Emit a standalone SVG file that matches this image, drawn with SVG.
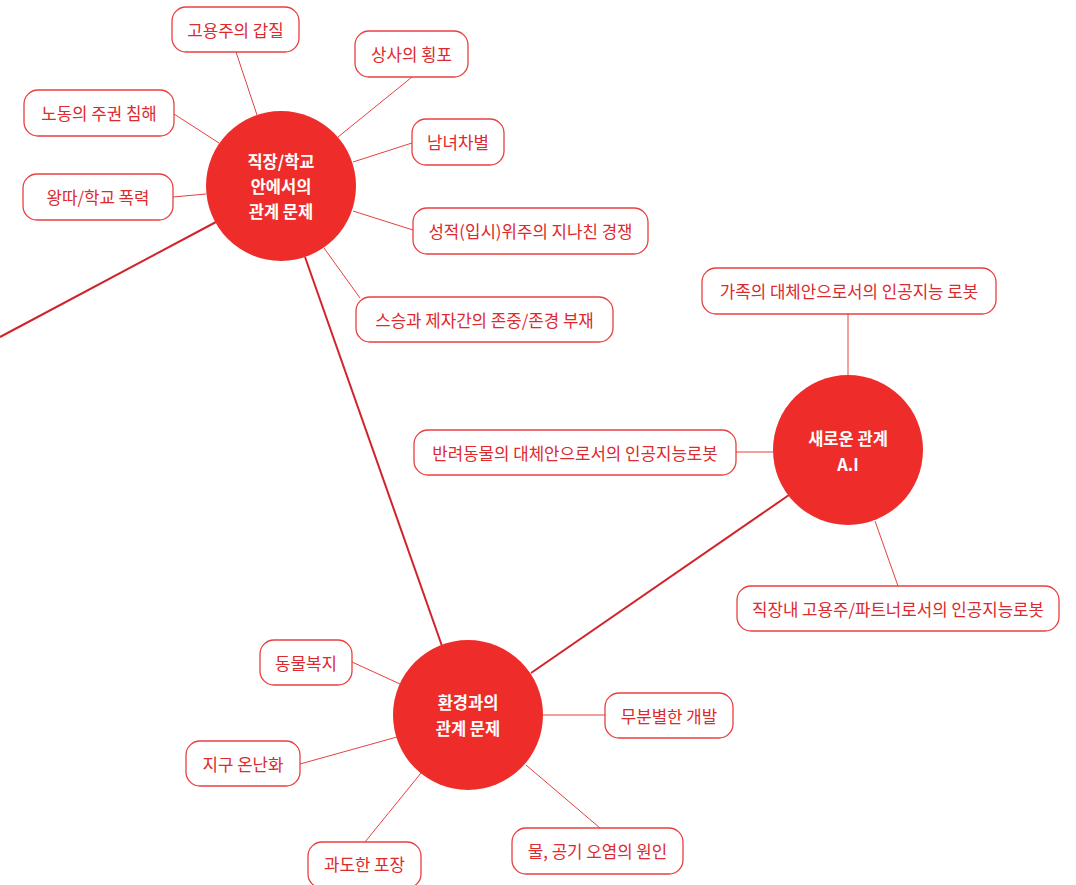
<svg xmlns="http://www.w3.org/2000/svg" width="1076" height="885" viewBox="0 0 1076 885">
<style>
.box rect{fill:#fff;stroke:#e8403f;stroke-width:1.3}
.box text{font-family:"Noto Sans CJK KR","Noto Sans",sans-serif;font-size:16.8px;fill:#dc2a2e;text-anchor:middle;dominant-baseline:central}
.hub circle{fill:#ee2d2a}
.hub text{font-family:"Noto Sans CJK KR","Noto Sans",sans-serif;font-size:16.5px;font-weight:bold;fill:#fff;text-anchor:middle;dominant-baseline:central}
.thin{stroke:#e8403f;stroke-width:1;fill:none}
.thick{stroke:#d1232a;stroke-width:2;fill:none}
</style>
<rect width="1076" height="885" fill="#fff"/>
<g id="connectors">
<line class="thick" x1="0" y1="337" x2="216" y2="222"/>
<line class="thick" x1="305" y1="257" x2="442" y2="646"/>
<line class="thick" x1="531" y1="673" x2="789" y2="495"/>
<line class="thin" x1="236" y1="52" x2="257" y2="115"/>
<line class="thin" x1="412" y1="77" x2="338" y2="137"/>
<line class="thin" x1="174" y1="114" x2="219" y2="143"/>
<line class="thin" x1="412" y1="143" x2="353" y2="162"/>
<line class="thin" x1="173" y1="197" x2="206" y2="194"/>
<line class="thin" x1="413" y1="230" x2="353" y2="211"/>
<line class="thin" x1="360" y1="298" x2="324" y2="248"/>
<line class="thin" x1="848" y1="314" x2="848" y2="375"/>
<line class="thin" x1="736" y1="452" x2="773" y2="452"/>
<line class="thin" x1="898" y1="586" x2="875" y2="521"/>
<line class="thin" x1="352" y1="662" x2="400" y2="684"/>
<line class="thin" x1="300" y1="764" x2="397" y2="737"/>
<line class="thin" x1="365" y1="842" x2="421" y2="773"/>
<line class="thin" x1="543" y1="715" x2="605" y2="715"/>
<line class="thin" x1="600" y1="828" x2="526" y2="765"/>
</g>
<g id="hub-work" class="hub"><circle cx="281" cy="186" r="75"/><text x="281" y="161">직장/학교</text><text x="281" y="186">안에서의</text><text x="281" y="211">관계 문제</text></g>
<g id="hub-ai" class="hub"><circle cx="848" cy="450" r="75"/><text x="848" y="438">새로운 관계</text><text x="848" y="464">A.I</text></g>
<g id="hub-env" class="hub"><circle cx="468" cy="715" r="75"/><text x="468" y="702">환경과의</text><text x="468" y="728">관계 문제</text></g>
<g id="n-employer" class="box"><rect x="172" y="7" width="127" height="45" rx="14"/><text x="235.5" y="29.5">고용주의 갑질</text></g>
<g id="n-boss" class="box"><rect x="355" y="31" width="113" height="46" rx="14"/><text x="411.5" y="54">상사의 횡포</text></g>
<g id="n-labor" class="box"><rect x="24" y="90" width="150" height="46" rx="14"/><text x="99" y="113">노동의 주권 침해</text></g>
<g id="n-gender" class="box"><rect x="412" y="119" width="92" height="46" rx="14"/><text x="458" y="142">남녀차별</text></g>
<g id="n-bully" class="box"><rect x="23" y="174" width="150" height="46" rx="14"/><text x="98" y="197">왕따/학교 폭력</text></g>
<g id="n-grades" class="box"><rect x="413" y="208" width="235" height="46" rx="14"/><text x="530.5" y="231">성적(입시)위주의 지나친 경쟁</text></g>
<g id="n-teacher" class="box"><rect x="356" y="297" width="257" height="45" rx="14"/><text x="484.5" y="319.5">스승과 제자간의 존중/존경 부재</text></g>
<g id="n-family" class="box"><rect x="702" y="268" width="294" height="46" rx="14"/><text x="849" y="291">가족의 대체안으로서의 인공지능 로봇</text></g>
<g id="n-pet" class="box"><rect x="414" y="430" width="322" height="45" rx="14"/><text x="575" y="452.5">반려동물의 대체안으로서의 인공지능로봇</text></g>
<g id="n-partner" class="box"><rect x="737" y="586" width="322" height="45" rx="14"/><text x="898" y="608.5">직장내 고용주/파트너로서의 인공지능로봇</text></g>
<g id="n-animal" class="box"><rect x="260" y="640" width="92" height="45" rx="14"/><text x="306" y="662.5">동물복지</text></g>
<g id="n-warming" class="box"><rect x="186" y="741" width="114" height="45" rx="14"/><text x="243" y="763.5">지구 온난화</text></g>
<g id="n-package" class="box"><rect x="308" y="842" width="113" height="46" rx="14"/><text x="364.5" y="864">과도한 포장</text></g>
<g id="n-develop" class="box"><rect x="605" y="693" width="128" height="45" rx="14"/><text x="669" y="715.5">무분별한 개발</text></g>
<g id="n-pollution" class="box"><rect x="512" y="828" width="171" height="46" rx="14"/><text x="597.5" y="851">물, 공기 오염의 원인</text></g>
</svg>
